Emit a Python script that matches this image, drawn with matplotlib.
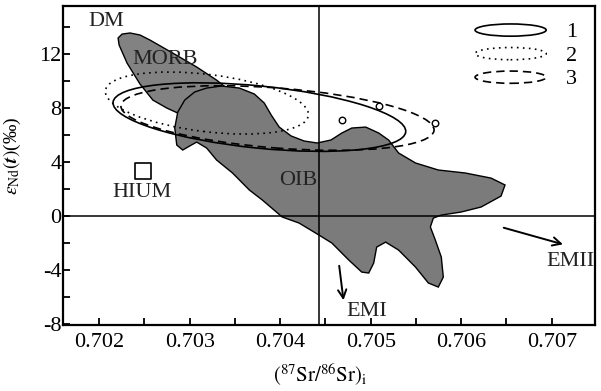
import numpy as np
import matplotlib
matplotlib.use("Agg")
import matplotlib.pyplot as plt
import matplotlib.patches as mpatches
from matplotlib.legend_handler import HandlerPatch
from matplotlib.transforms import Affine2D
from matplotlib.ticker import MultipleLocator

plt.rcParams['font.family'] = ['Liberation Serif', 'DejaVu Serif']
plt.rcParams['mathtext.fontset'] = 'stix'
plt.rcParams['axes.unicode_minus'] = False

# OIB field outline, (87Sr/86Sr)i vs eps_Nd(t)
oib_sr = [0.702857, 0.702835, 0.702868, 0.702945, 0.703055, 0.703187, 0.703352,
          0.703549, 0.703714, 0.703824, 0.703901, 0.703989, 0.704121, 0.704264,
          0.704407, 0.704560, 0.704681, 0.704791, 0.704945, 0.705088, 0.705198,
          0.705308, 0.705495, 0.705747, 0.706044, 0.706330, 0.706484, 0.706440,
          0.706220, 0.706000, 0.705780, 0.705692, 0.705659, 0.705714, 0.705780,
          0.705802, 0.705747, 0.705637, 0.705495, 0.705308, 0.705165, 0.705066,
          0.705033, 0.704978, 0.704901, 0.704758, 0.704571, 0.704429, 0.704209,
          0.704022, 0.703802, 0.703659, 0.703473, 0.703297, 0.703187, 0.703077,
          0.703000, 0.702923]
oib_nd = [5.26, 6.52, 7.70, 8.59, 9.19, 9.48, 9.63,
          9.48, 9.04, 8.37, 7.48, 6.59, 5.93, 5.56,
          5.41, 5.63, 6.15, 6.52, 6.59, 6.15, 5.63,
          4.67, 3.93, 3.41, 3.19, 2.81, 2.30, 1.48,
          0.67, 0.30, 0.07, -0.15, -0.81, -1.78, -3.04,
          -4.52, -5.26, -4.96, -3.78, -2.52, -1.93, -2.30,
          -3.48, -4.22, -4.15, -3.26, -2.00, -1.41, -0.52,
          -0.07, 1.19, 1.93, 3.19, 4.15, 5.04, 5.48,
          5.19, 4.89]

# MORB field outline
morb_sr = [0.702209, 0.702253, 0.702341, 0.702451, 0.702560, 0.702813, 0.703077,
           0.703297, 0.703462, 0.703385, 0.702945, 0.702868, 0.702747, 0.702593,
           0.702451, 0.702308, 0.702220]
morb_nd = [13.19, 13.48, 13.56, 13.41, 13.04, 12.07, 11.04,
           10.07, 9.19, 7.11, 7.48, 7.63, 8.00, 8.59,
           9.78, 11.33, 12.67]

# sample ellipses: centre, width (Sr), height (eps), tilt (deg, as seen)
ell_labels = ['1', '2', '3']
ell_center = [(0.70377, 7.33), (0.70319, 8.37), (0.70397, 7.26)]
ell_width = [0.00325, 0.00226, 0.00347]
ell_height = [4.6, 4.24, 4.44]
ell_angle = [-5.8, -7.0, -4.5]
ell_style = ['-', (0, (1, 2.6)), (0, (5, 3))]

# open circles
pt_sr = [0.704681, 0.705088, 0.705714]
pt_nd = [7.11, 8.15, 6.89]

# HIUM box
hium_sr, hium_nd = 0.702484, 3.33

# field labels
lab_text = ['DM', 'MORB', 'HIUM', 'OIB', 'EMI', 'EMII']
lab_sr = [0.702077, 0.702725, 0.702473, 0.704198, 0.704956, 0.707209]
lab_nd = [14.44, 11.63, 1.78, 2.67, -7.04, -3.33]

# trend arrows (start -> end)
arr_start = [(0.704648, -3.48), (0.706440, -0.81)]
arr_end = [(0.704703, -6.44), (0.707154, -2.15)]

sr_line = 0.70443


class HandlerEllipse(HandlerPatch):
    def create_artists(self, legend, orig_handle, xdescent, ydescent,
                       width, height, fontsize, trans):
        center = 0.5 * width - 0.5 * xdescent, 0.5 * height - 0.5 * ydescent
        p = mpatches.Ellipse(xy=center, width=width + xdescent,
                             height=height + ydescent)
        self.update_prop(p, orig_handle, legend)
        p.set_transform(trans)
        return [p]


fig = plt.figure(figsize=(6.01, 3.91), dpi=100)
ax = fig.add_axes([0.1048, 0.1688, 0.8855, 0.8159])
ax.set_xlim(0.70160, 0.70748)
ax.set_ylim(-8.07, 15.56)

ax.fill(morb_sr, morb_nd, facecolor='#828282', edgecolor='black', lw=1.0, zorder=2)
ax.fill(oib_sr, oib_nd, facecolor='#7b7b7b', edgecolor='black', lw=1.0, zorder=3)

ax.axvline(sr_line, color='black', lw=1.1, zorder=4)
ax.axhline(0, color='black', lw=1.1, zorder=4)

# isotropic helper so the tilt of each ellipse is the one seen on the page
p0 = ax.transData.transform((0.702, 0.0))
p1 = ax.transData.transform((0.703, 1.0))
k = ((p1[0] - p0[0]) / 0.001) / (p1[1] - p0[1])
ell_tr = Affine2D().scale(1.0 / k, 1.0) + ax.transData

handles = []
for c, w, h, a, ls, lab in zip(ell_center, ell_width, ell_height, ell_angle,
                               ell_style, ell_labels):
    e = mpatches.Ellipse((c[0] * k, c[1]), w * k, h, angle=a, fill=False,
                         ec='black', lw=1.2, ls=ls, transform=ell_tr, zorder=5)
    ax.add_patch(e)
    handles.append(mpatches.Ellipse((0, 0), 1, 1, fill=False, ec='black',
                                    lw=1.2, ls=ls, label=lab))

ax.scatter(pt_sr, pt_nd, s=22, facecolor='white', edgecolor='black',
           lw=1.0, zorder=6)
ax.scatter([hium_sr], [hium_nd], marker='s', s=135, facecolor='white',
           edgecolor='black', lw=1.2, zorder=6)

for t, x, y in zip(lab_text, lab_sr, lab_nd):
    ax.text(x, y, t, fontsize=16, ha='center', va='center', zorder=7,
            color='#222222')

for s, e in zip(arr_start, arr_end):
    ax.annotate('', xy=e, xytext=s,
                arrowprops=dict(arrowstyle='->,head_length=0.6,head_width=0.3',
                                lw=1.4, color='black'), zorder=7)

leg = ax.legend(handles=handles, handler_map={mpatches.Ellipse: HandlerEllipse()},
                loc='upper right', bbox_to_anchor=(1.004, 1.01), frameon=False,
                fontsize=16, handlelength=3.2, handleheight=0.55,
                labelspacing=0.18, handletextpad=0.9)

ax.xaxis.set_major_locator(MultipleLocator(0.001))
ax.xaxis.set_minor_locator(MultipleLocator(0.0005))
ax.yaxis.set_major_locator(MultipleLocator(4))
ax.yaxis.set_minor_locator(MultipleLocator(2))
ax.xaxis.set_major_formatter(plt.FuncFormatter(lambda v, p: '%.3f' % v))
ax.tick_params(which='both', direction='in', length=5, width=1.3,
               top=False, right=False, labelsize=16)
ax.tick_params(axis='x', pad=6)
ax.tick_params(axis='y', pad=1)
for sp in ax.spines.values():
    sp.set_linewidth(1.6)

ax.set_xlabel(r'$(^{87}\mathrm{Sr}/^{86}\mathrm{Sr})_\mathrm{i}$', fontsize=15)
ax.xaxis.set_label_coords(0.484, -0.116)
ax.set_ylabel(r'$\varepsilon_{\mathrm{Nd}}(\boldsymbol{t})$(‰)', fontsize=14)
ax.yaxis.set_label_coords(-0.075, 0.53)

fig.savefig('out.png', dpi=100)
